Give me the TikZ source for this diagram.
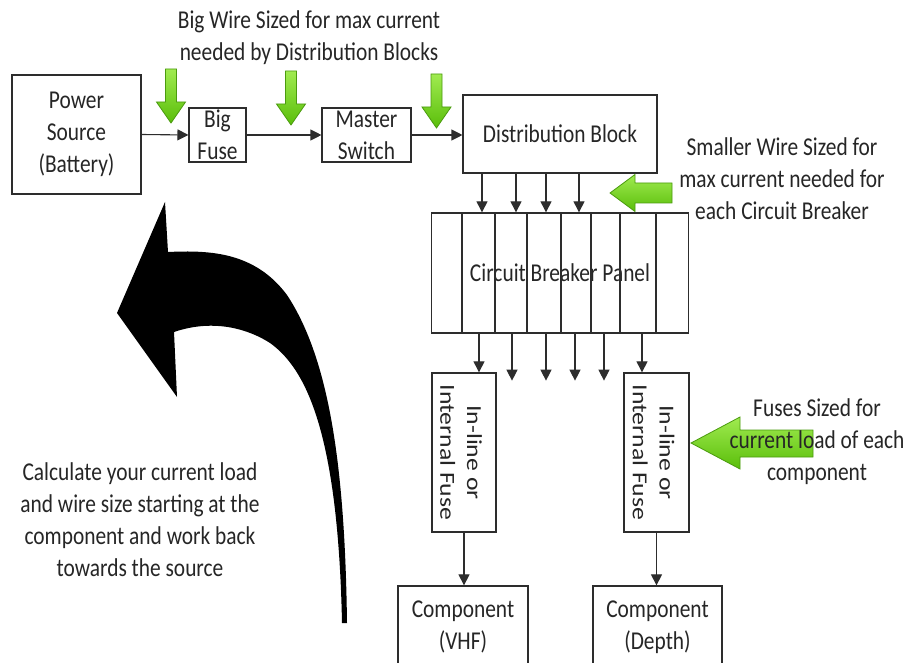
\documentclass[tikz,border=0pt]{standalone}
\usepackage{fontspec}
\setmainfont{Carlito}
\usetikzlibrary{arrows.meta,calc}
\definecolor{ink}{RGB}{38,38,38}
\definecolor{edge}{RGB}{45,45,45}
\definecolor{gLight}{RGB}{160,235,80}
\definecolor{gDark}{RGB}{90,190,10}
\definecolor{gEdge}{RGB}{75,155,15}
\newcommand\lbl{\fontsize{21.4}{26.7}\selectfont}

\begin{document}
\begin{tikzpicture}[x=1pt,y=-1pt,
  box/.style={draw=edge, line width=1.1pt, fill=white, inner sep=0pt,
    align=center, font=\lbl, text=ink, yscale=1.2},
  note/.style={align=center, font=\lbl, text=ink, inner sep=0pt, yscale=1.2},
  wire/.style={draw=edge, line width=1.1pt, -{Triangle[length=11pt,width=11pt]}},
  garrow/.style={top color=gLight, bottom color=gDark, draw=gEdge,
    line width=0.8pt, line join=miter},
  pics/dropdown/.style={code={
    \path[garrow] (-5.5,-54) -- (5.5,-54) -- (5.5,-21) -- (14.5,-21)
      -- (0,0) -- (-14.5,-21) -- (-5.5,-21) -- cycle;}}
]
\useasboundingbox (0,0) rectangle (907,663);
\clip (0,0) rectangle (907,663);
\fill[white] (0,0) rectangle (907,663);

% main chain
\node[box, minimum width=129pt, minimum height=99.2pt] (power) at (76.5,134.5) {Power\\Source\\(Battery)};
\node[box, minimum width=57pt, minimum height=45pt] (bigfuse) at (217.5,135) {Big\\Fuse};
\node[box, minimum width=89pt, minimum height=45pt] (master) at (366.5,135) {Master\\Switch};
\node[box, minimum width=194pt, minimum height=65pt] (distrib) at (560,134) {Distribution Block};
\node[box, minimum width=257pt, minimum height=100pt] (panel) at (560,273) {Circuit Breaker Panel};
\foreach \dx in {31,64,96,130,160,189,225}
  \draw[draw=edge, line width=1.1pt] ($(panel.north west)+(\dx,0)$) -- ($(panel.south west)+(\dx,0)$);

% branch fuses and components
\node[box, minimum width=64pt, minimum height=132.5pt] (fuseL) at (464,452.5) {};
\node[box, minimum width=65pt, minimum height=132.5pt] (fuseR) at (656.5,452.5) {};
\node[note, rotate=-90] (fuseLtext) at ([xshift=-3pt]fuseL.center) {In-line or\\Internal Fuse};
\node[note, rotate=-90] (fuseRtext) at ([xshift=-3pt]fuseR.center) {In-line or\\Internal Fuse};
\node[box, minimum width=130pt, minimum height=68.3pt] (compL) at (463,627) {Component\\(VHF)};
\node[box, minimum width=129pt, minimum height=68.3pt] (compR) at (657.5,627) {Component\\(Depth)};

% wiring
\draw[wire] (power.east) -- (bigfuse.west);
\draw[wire] (bigfuse.east) -- (master.west);
\draw[wire] (master.east) -- (distrib.west |- master.east);
\foreach \dx in {-78,-44,-14,19}
  \draw[wire] ($(distrib.south)+(\dx,0)$) -- ($(panel.north)+(\dx,0)$);
\foreach \i/\dx in {1/-81,2/-48,3/-14,4/15,5/44,6/82}
  \coordinate (brk\i) at ($(panel.south)+(\dx,0)$);
\foreach \i in {2,...,5}{
  \coordinate (tap\i) at ($(brk\i)+(0,47)$);
  \draw[wire] (brk\i) -- (tap\i);}
\draw[wire] (brk1) -- (brk1 |- fuseL.north);
\draw[wire] (brk6) -- (brk6 |- fuseR.north);
\draw[wire] (fuseL.south) -- (fuseL.south |- compL.north);
\draw[wire] (fuseR.south) -- (fuseR.south |- compR.north);

% green pointers
\pic at (171,123) {dropdown};
\pic at (291,125) {dropdown};
\pic at (436.5,128) {dropdown};
\path[garrow] (610,193) -- (635,174.5) -- (635,183) -- (672,183) -- (672,203)
  -- (635,203) -- (635,211.5) -- cycle;
\path[garrow] (691,443) -- (740,417) -- (740,430) -- (813,430) -- (813,457)
  -- (740,457) -- (740,469) -- cycle;

% notes
\node[note] (topnote) at (309,38) {Big Wire Sized for max current\\needed by Distribution Blocks};
\node[note] (brknote) at (782,179) {Smaller Wire Sized for\\max current needed for\\each Circuit Breaker};
\node[note] (fusenote) at (817,441.5) {Fuses Sized for\\current load of each\\component};
\node[note] (calcnote) at (140,520) {Calculate your current load\\and wire size starting at the\\component and work back\\towards the source};

% big curved return arrow
\fill[black] (347,623) .. controls (345,470) and (330,360) .. (287,295)
  .. controls (255,252) and (210,250) .. (168,252)
  -- (165,202) -- (117,313) -- (177,397) -- (174,332)
  .. controls (215,318) and (250,330) .. (270,343)
  .. controls (305,368) and (338,430) .. (342,623) -- cycle;
\end{tikzpicture}
\end{document}
